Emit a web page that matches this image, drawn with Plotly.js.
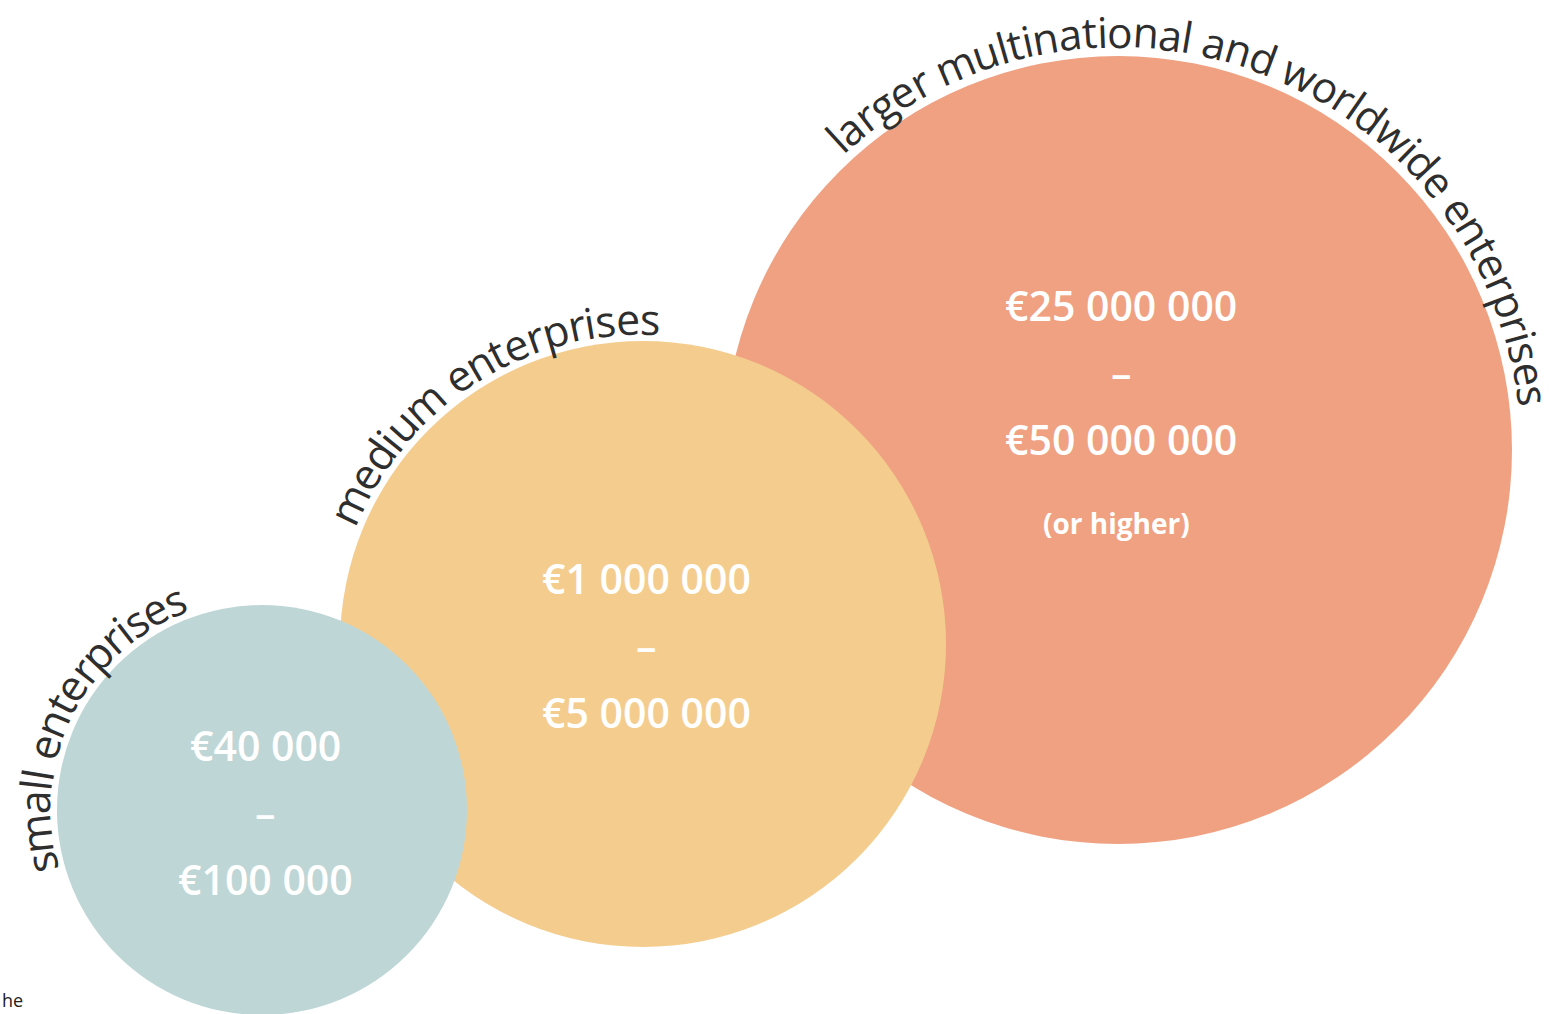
<!DOCTYPE html>
<html>
<head>
<meta charset="utf-8">
<script src="https://cdn.plot.ly/plotly-3.0.1.min.js"></script>
<style>html,body{margin:0;padding:0;background:#fff;}#chart{width:1556px;height:1014px;}</style>
</head>
<body>
<div id="chart"></div>
<script>
// ---- data ----
const categories = ["small enterprises", "medium enterprises", "larger multinational and worldwide enterprises"];
const budgetFrom = ["€40 000", "€1 000 000", "€25 000 000"];
const budgetTo = ["€100 000", "€5 000 000", "€50 000 000"];
const budgetNote = ["", "", "(or higher)"];

// ---- geometry / style (pixel space) ----
const geom = [
  {cx: 262, cy: 810, r: 205, color: "#BED6D6", labelY: 745, textR: 228, a0: -196, a1: -110},
  {cx: 643, cy: 644, r: 303, color: "#F4CD8E", labelY: 578, textR: 326, a0: -158, a1: -87},
  {cx: 1118, cy: 450, r: 394, color: "#EFA182", labelY: 305, textR: 419, a0: -133, a1: -6}
];
const lineGap = 67;
const W = 1556, H = 1014;

const canvas = document.createElement("canvas");
const ctx = canvas.getContext("2d");
function measure(t, size) {
  ctx.font = "400 " + size + "px 'Open Sans'";
  return ctx.measureText(t).width;
}

const shapes = [];
const annotations = [];
// draw largest first so smaller circles sit on top
for (let i = geom.length - 1; i >= 0; i--) {
  const g = geom[i];
  shapes.push({type: "circle", xref: "x", yref: "y", x0: g.cx - g.r, x1: g.cx + g.r,
    y0: g.cy - g.r, y1: g.cy + g.r, fillcolor: g.color, line: {width: 0}, layer: "above"});
}

const numFont = {family: "Open Sans", size: 41, color: "#ffffff", weight: 600};
geom.forEach((g, i) => {
  const lines = [budgetFrom[i], "–", budgetTo[i]];
  lines.forEach((t, k) => {
    annotations.push({x: g.cx + 3, y: g.labelY + k * lineGap, xref: "x", yref: "y", text: t,
      showarrow: false, xanchor: "center", yanchor: "middle", font: numFont});
  });
  if (budgetNote[i]) {
    annotations.push({x: g.cx - 2, y: g.labelY + 3 * lineGap + 17, xref: "x", yref: "y", text: budgetNote[i],
      showarrow: false, xanchor: "center", yanchor: "middle",
      font: {family: "Open Sans", size: 28, color: "#ffffff", weight: 700}});
  }
  // curved category label
  const label = categories[i];
  const span = (g.a1 - g.a0) * Math.PI / 180 * g.textR;
  const w1 = measure(label, 100) / 100;
  const fs = span / w1;
  let s = 0;
  for (const ch of label) {
    const w = measure(ch, fs);
    if (ch !== " ") {
      const ang = g.a0 * Math.PI / 180 + (s + w / 2) / g.textR;
      annotations.push({
        x: g.cx + g.textR * Math.cos(ang), y: g.cy + g.textR * Math.sin(ang),
        xref: "x", yref: "y", text: ch, showarrow: false, xanchor: "center", yanchor: "middle",
        textangle: ang * 180 / Math.PI + 90, borderpad: 0,
        font: {family: "Open Sans", size: fs, color: "#2e2e2e"}
      });
    }
    s += w;
  }
});

// small stray text at bottom-left edge
annotations.push({x: 0, y: 1014, xref: "x", yref: "y", text: "he", showarrow: false,
  xanchor: "left", yanchor: "bottom", font: {family: "Open Sans", size: 18, color: "#222"}});

const layout = {
  width: W, height: H,
  margin: {l: 0, r: 0, t: 0, b: 0},
  paper_bgcolor: "#ffffff", plot_bgcolor: "#ffffff",
  xaxis: {range: [0, W], visible: false, fixedrange: true},
  yaxis: {range: [H, 0], visible: false, fixedrange: true},
  shapes: shapes, annotations: annotations, showlegend: false
};
Plotly.newPlot("chart", [{x: [], y: [], type: "scatter", hoverinfo: "skip"}], layout, {displayModeBar: false, staticPlot: true});
</script>
</body>
</html>
